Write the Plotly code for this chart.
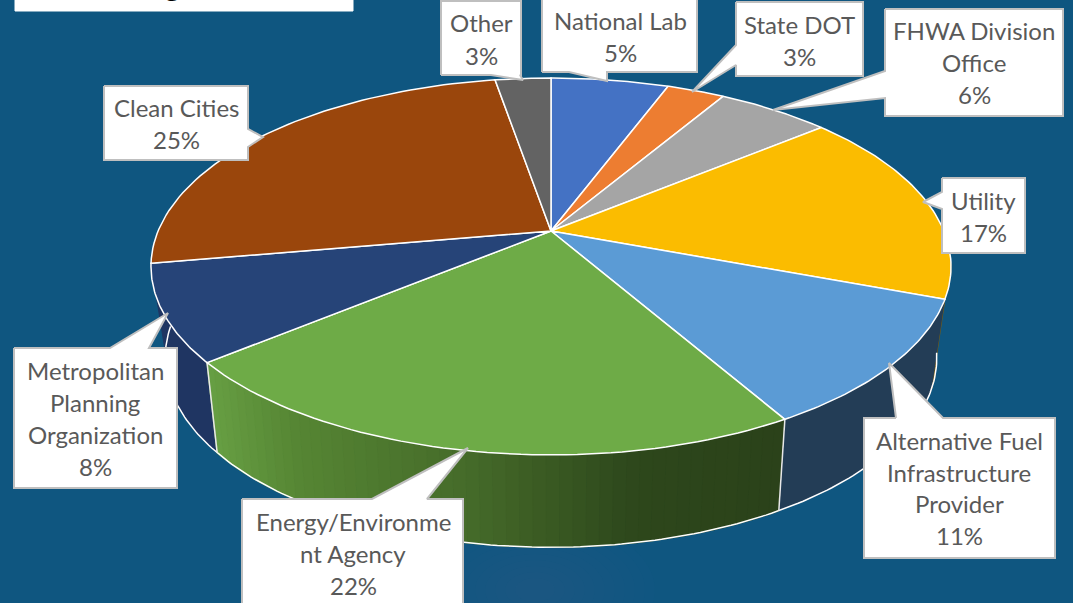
import math
import plotly.graph_objects as go

categories = ["National Lab", "State DOT", "FHWA Division Office", "Utility",
              "Alternative Fuel Infrastructure Provider", "Energy/Environment Agency",
              "Metropolitan Planning Organization", "Clean Cities", "Other"]
values = [5.7, 2.8, 5.5, 16.7, 11.0, 22.3, 8.25, 25.05, 2.7]
percent_labels = ["5%", "3%", "6%", "17%", "11%", "22%", "8%", "25%", "3%"]
top_colors = ["#4472C4", "#ED7D31", "#A5A5A5", "#FBBC00", "#5B9BD5", "#6EAB47", "#264478", "#9A460C", "#636363"]

CX, CY, A, B, K = 551.0, 231.0, 392.9, 181.8, 0.188
A2, B2, CY2, K2 = 378.0, 181.8, 320.0, 0.2
BG = "#0F5680"


def rim(theta, lower=False):
    if lower:
        w = 1 + K2 * math.cos(theta)
        return CX + A2 * math.sin(theta) / w, CY2 - B2 * math.cos(theta) / w
    w = 1 + K * math.cos(theta)
    return CX + A * math.sin(theta) / w, CY - B * math.cos(theta) / w


def arc(t0, t1, lower=False, n=60):
    pts = [rim(t0 + (t1 - t0) * i / n, lower) for i in range(n + 1)]
    return [p[0] for p in pts], [p[1] for p in pts]


def poly(xs, ys, fill, line=None, width=1, close=True):
    return go.Scatter(x=xs, y=ys, mode="lines", fill="toself" if close else "none",
                      fillcolor=fill, line=dict(color=line or fill, width=width),
                      hoverinfo="skip", showlegend=False)


def mix(stops, x):
    for (x0, c0), (x1, c1) in zip(stops, stops[1:]):
        if x <= x1:
            f = max(0, (x - x0) / (x1 - x0))
            return "rgb(%d,%d,%d)" % tuple(c0[i] + (c1[i] - c0[i]) * f for i in range(3))
    return "rgb(%d,%d,%d)" % stops[-1][1]


fig = go.Figure()

# soft glow in the background
for i, r in enumerate(range(120, 10, -10)):
    xs = [535 + r * 1.0 * math.cos(j * math.pi / 30) for j in range(61)]
    ys = [590 + r * 0.6 * math.sin(j * math.pi / 30) for j in range(61)]
    fig.add_trace(go.Scatter(x=xs, y=ys, mode="lines", fill="toself",
                             fillcolor="rgba(90,130,180,0.022)", line=dict(width=0),
                             hoverinfo="skip", showlegend=False))

edges = [0.0]
for v in values:
    edges.append(edges[-1] + v / sum(values) * 2 * math.pi)

# side walls: near-facing part only
green_stops = [(208, (104, 160, 68)), (300, (86, 134, 52)), (470, (70, 108, 42)),
               (640, (46, 72, 28)), (790, (43, 66, 26))]
wall_lo, wall_hi = math.radians(100), math.radians(268)
wall_solid = {3: "#7A5C10", 4: "#233D56", 6: "#1F3562"}
for idx in (3, 4, 6):
    t0, t1 = max(edges[idx], wall_lo), min(edges[idx + 1], wall_hi)
    x1, y1 = arc(t0, t1)
    x2, y2 = arc(t1, t0, True)
    fig.add_trace(poly(x1 + x2, y1 + y2, wall_solid[idx]))
t0, t1 = edges[5], edges[6]
STEPS = 50
for i in range(STEPS):
    a = t0 + (t1 - t0) * i / STEPS
    b = t0 + (t1 - t0) * (i + 1) / STEPS
    x1, y1 = arc(a, b, n=1)
    x2, y2 = arc(b, a, True, n=1)
    c = mix(green_stops, x1[0])
    fig.add_trace(poly(x1 + x2, y1 + y2, c, c, 1.5))

# wall outlines
xl, yl = arc(wall_lo, wall_hi, True, n=200)
fig.add_trace(poly(xl, yl, "rgba(0,0,0,0)", "#FFFFFF", 1.5, close=False))
for idx in (5, 6):
    xa, ya = rim(edges[idx])
    xb, yb = rim(edges[idx], True)
    fig.add_trace(poly([xa, xb], [ya, yb], "rgba(0,0,0,0)", "#E8E8E8", 1.5, close=False))

# top face
for i, col in enumerate(top_colors):
    xs, ys = arc(edges[i], edges[i + 1])
    fig.add_trace(poly([CX] + xs + [CX], [CY] + ys + [CY], col, "#FFFFFF", 1.5))

# callouts: outline polygons in page pixels
callouts = [
    ([441, 491, 523, 520, 521, 521, 441], [75, 75, 80, 75, 75, 1, 1]),
    ([104, 248, 248, 263, 248, 248, 104], [86, 86, 129, 137, 147, 160, 160]),
    ([542, 569, 607, 607, 697, 697, 542], [72, 72, 81, 72, 72, -5, -5]),
    ([736, 736, 692, 736, 736, 863, 863], [2, 45, 92, 65, 76, 76, 2]),
    ([885, 885, 773, 885, 885, 1063, 1063], [9, 71, 110, 98, 116, 116, 9]),
    ([942, 942, 923, 942, 942, 1025, 1025], [178, 192, 202, 209, 253, 253, 178]),
    ([896, 889, 943, 1055, 1055, 864, 864], [418, 363, 418, 418, 558, 558, 418]),
    ([242, 372, 468, 427, 463, 463, 242], [499, 499, 448, 499, 499, 610, 610]),
    ([14, 110, 168, 149, 177, 177, 14], [348, 348, 313, 348, 348, 488, 488]),
]
for xs, ys in callouts:
    fig.add_trace(poly(xs + xs[:1], ys + ys[:1], "#FFFFFF", "#BFBFBF", 2))

fig.add_trace(poly([15, 353, 353, 15, 15], [-3, -3, 11, 11, -3], "#FFFFFF"))
fig.add_annotation(x=172, y=4, yanchor="bottom", text="g", showarrow=False,
                   font=dict(family="Lato", size=32, color="#000000"))

label_lines = [
    ("National Lab", 620, 20), ("State DOT", 799, 24), ("FHWA Division", 974, 30), ("Office", 974, 62),
    ("Utility", 983, 200), ("Alternative Fuel", 959, 440), ("Infrastructure", 959, 472), ("Provider", 959, 503),
    ("Energy/Environme", 353, 521), ("nt Agency", 353, 553),
    ("Metropolitan", 95, 370), ("Planning", 95, 402), ("Organization", 95, 434),
    ("Clean Cities", 176, 107), ("Other", 481, 22),
]
pct_pos = [(620, 52), (799, 56), (974, 94), (983, 232), (959, 535), (353, 585), (95, 466), (176, 139), (481, 55)]
TXT = dict(family="Lato", size=24, color="#595959")
for t, x, y in label_lines:
    fig.add_annotation(x=x, y=y, text=t, showarrow=False, font=TXT)
for t, (x, y) in zip(percent_labels, pct_pos):
    fig.add_annotation(x=x, y=y, text=t, showarrow=False, font=TXT)

fig.update_layout(
    width=1073, height=603, margin=dict(l=0, r=0, t=0, b=0), autosize=False,
    paper_bgcolor=BG, plot_bgcolor=BG, showlegend=False,
    xaxis=dict(range=[0, 1073], visible=False, fixedrange=True),
    yaxis=dict(range=[603, 0], visible=False, fixedrange=True),
)
fig.write_html("out.html", config={"displayModeBar": False},
               post_script="document.body.style.margin='0';document.body.style.overflow='hidden';document.body.style.background='%s';" % BG)
